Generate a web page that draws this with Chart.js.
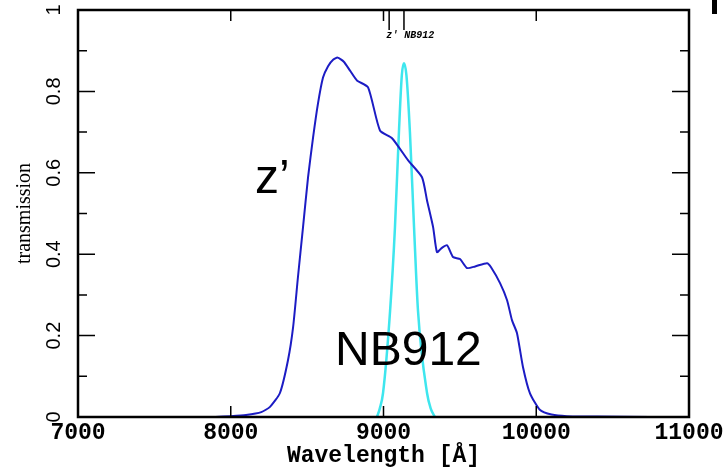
<!DOCTYPE html>
<html>
<head>
<meta charset="utf-8">
<script src="https://cdn.jsdelivr.net/npm/chart.js@4"></script>
<style>
  html, body { margin: 0; padding: 0; background: #fff; }
  #wrap { width: 724px; height: 468px; }
</style>
</head>
<body>
<div id="wrap"><canvas id="chart1" width="724" height="468"></canvas></div>
<script>
// z' filter transmission
var zWave  = [7900, 8000, 8100, 8200, 8257, 8322, 8375, 8408, 8440, 8473, 8506, 8539, 8571, 8604, 8637, 8670, 8700, 8740, 8781, 8826, 8899, 8977, 9056, 9160, 9252, 9285, 9325, 9350, 9380, 9416, 9455, 9501, 9547, 9600, 9678, 9704, 9763, 9809, 9841, 9874, 9913, 9959, 10025, 10100, 10200, 10400, 10745];
var zTrans = [0, 0.002, 0.005, 0.012, 0.025, 0.059, 0.14, 0.22, 0.344, 0.466, 0.589, 0.687, 0.77, 0.834, 0.862, 0.878, 0.883, 0.873, 0.851, 0.827, 0.81, 0.704, 0.685, 0.631, 0.589, 0.532, 0.466, 0.405, 0.415, 0.422, 0.393, 0.388, 0.366, 0.37, 0.378, 0.368, 0.329, 0.287, 0.238, 0.206, 0.123, 0.058, 0.017, 0.006, 0.002, 0.001, 0];

// NB912 filter transmission
var nbWave  = [8957, 8975, 8997, 9043, 9075, 9101, 9120, 9134, 9150, 9173, 9200, 9226, 9285, 9310, 9337];
var nbTrans = [0, 0.02, 0.059, 0.26, 0.466, 0.70, 0.84, 0.869, 0.84, 0.70, 0.466, 0.26, 0.059, 0.02, 0];

var xTicks = [7000, 8000, 9000, 10000, 11000];
var yTicks = [0, 0.2, 0.4, 0.6, 0.8, 1];
var yTickLabels = ["0", "0.2", "0.4", "0.6", "0.8", "1"];

function pts(xs, ys) {
  return xs.map(function (x, i) { return { x: x, y: ys[i] }; });
}

var framePlugin = {
  id: 'frame',
  afterDraw: function (chart) {
    var c = chart.ctx, a = chart.chartArea;
    var xs = chart.scales.x, ys = chart.scales.y;
    c.save();
    c.strokeStyle = '#000';
    c.fillStyle = '#000';
    c.lineWidth = 2.5;
    c.strokeRect(a.left, a.top, a.right - a.left, a.bottom - a.top);

    c.lineWidth = 1.5;
    c.beginPath();
    // y ticks (inward), major every 0.2, minor every 0.1
    for (var i = 1; i < 10; i++) {
      var py = ys.getPixelForValue(i / 10);
      var len = (i % 2 === 0) ? 17 : 9;
      c.moveTo(a.left, py); c.lineTo(a.left + len, py);
      c.moveTo(a.right, py); c.lineTo(a.right - len, py);
    }
    // x ticks (inward)
    for (var j = 1; j < xTicks.length - 1; j++) {
      var px = xs.getPixelForValue(xTicks[j]);
      c.moveTo(px, a.bottom); c.lineTo(px, a.bottom - 11);
      c.moveTo(px, a.top); c.lineTo(px, a.top + 11);
    }
    // filter markers at top
    var zm = xs.getPixelForValue(9037), nm = xs.getPixelForValue(9134);
    c.moveTo(zm, a.top); c.lineTo(zm, a.top + 20);
    c.moveTo(nm, a.top); c.lineTo(nm, a.top + 20);
    c.stroke();

    c.font = 'bold italic 10px "Liberation Mono"';
    c.textAlign = 'left';
    c.textBaseline = 'alphabetic';
    c.fillText("z' NB912", zm - 3, a.top + 28);

    // x tick labels
    c.font = 'bold 23px "Liberation Mono"';
    c.textAlign = 'center';
    xTicks.forEach(function (v) {
      c.fillText(String(v), xs.getPixelForValue(v), 439);
    });
    c.fillText('Wavelength [\u00c5]', (a.left + a.right) / 2, 462);

    // y tick labels, rotated
    c.font = '20px "Liberation Sans"';
    c.textBaseline = 'middle';
    yTicks.forEach(function (v, k) {
      c.save();
      c.translate(54, ys.getPixelForValue(v));
      c.rotate(-Math.PI / 2);
      c.fillText(yTickLabels[k], 0, 0);
      c.restore();
    });
    c.save();
    c.font = '20px "Liberation Serif"';
    c.translate(25, (a.top + a.bottom) / 2);
    c.rotate(-Math.PI / 2);
    c.fillText('transmission', 0, 0);
    c.restore();

    // curve labels
    c.font = '48px "Liberation Sans"';
    c.textAlign = 'left';
    c.textBaseline = 'alphabetic';
    c.fillText('z\u2019', 255, 193);
    c.fillText('NB912', 335, 365);

    // clipped mark at top right
    c.fillRect(712, 0, 5, 14);
    c.restore();
  }
};

var data = {
  datasets: [{
    label: "z'",
    data: pts(zWave, zTrans),
    borderColor: '#1c1cc4',
    borderWidth: 2,
    pointRadius: 0,
    tension: 0.2,
    fill: false
  }, {
    label: 'NB912',
    data: pts(nbWave, nbTrans),
    borderColor: '#3ee6ee',
    borderWidth: 2.5,
    pointRadius: 0,
    tension: 0.4,
    cubicInterpolationMode: 'monotone',
    fill: false
  }]
};

var options = {
  responsive: false,
  animation: false,
  events: [],
  layout: { padding: { left: 78, right: 35, top: 10, bottom: 51 } },
  plugins: { legend: { display: false }, tooltip: { enabled: false } },
  scales: {
    x: { type: 'linear', min: 7000, max: 11000, display: false },
    y: { type: 'linear', min: 0, max: 1, display: false }
  }
};

var chart1 = new Chart(document.getElementById('chart1'), {
  type: 'line',
  data: data,
  options: options,
  plugins: [framePlugin]
});
</script>
</body>
</html>
